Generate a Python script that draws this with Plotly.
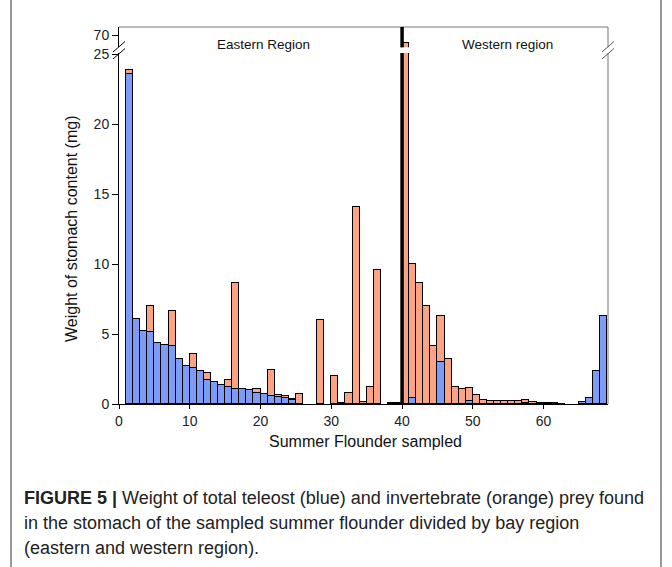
import plotly.graph_objects as go

# ---- data ----
samples = list(range(1, 69))
teleost = [23.57, 6.07, 5.19, 5.16, 4.36, 4.24, 4.14, 3.19, 2.69, 2.57,
           2.36, 1.74, 1.59, 1.38, 1.21, 1.07, 1.07, 1.00, 0.76, 0.69,
           0.59, 0.50, 0.40, 0.31, 0, 0, 0, 0, 0, 0,
           0, 0, 0, 0, 0, 0, 0, 0, 0, 0,
           0.43, 0, 0, 0, 3.00, 0, 0, 0, 0.21, 0,
           0, 0, 0, 0, 0, 0, 0.05, 0, 0, 0,
           0, 0, 0, 0, 0.16, 0.45, 2.36, 6.29]
invertebrate = [0.26, 0, 0, 1.85, 0, 0, 2.52, 0, 0, 1.02,
                0, 0.47, 0, 0, 0.53, 7.54, 0, 0, 0.28, 0,
                1.81, 0.14, 0.14, 0.05, 0.71, 0, 0, 6.00, 0, 2.00,
                0.10, 0.76, 14.09, 0.12, 1.21, 9.55, 0, 0.04, 0.04, 69.44,
                9.59, 8.66, 7.00, 4.11, 3.28, 3.21, 1.24, 1.04, 0.90, 0.66,
                0.31, 0.24, 0.24, 0.24, 0.19, 0.19, 0.24, 0.17, 0.05, 0.04,
                0.04, 0.02, 0, 0, 0, 0, 0, 0]
region_split = 40
region_labels = ["Eastern Region", "Western region"]
lower_ticks = [0, 5, 10, 15, 20, 25]
upper_ticks = [70]
x_ticks = [0, 10, 20, 30, 40, 50, 60]
caption_lines = [
    "<b>FIGURE 5 |</b> Weight of total teleost (blue) and invertebrate (orange) prey found",
    "in the stomach of the sampled summer flounder divided by bay region",
    "(eastern and western region).",
]

BLUE = "#7c9cf7"
ORANGE = "#fba383"
FONT = "Liberation Sans"

W, H = 672, 567
PL, PR, PT, PB = 119, 608, 27, 404  # plot box in pixels


def px(x):
    return x / W


def py(y):
    return 1 - y / H


def nz(v):
    return [a if a > 0 else None for a in v]


fig = go.Figure()
for yax in ["y", "y2"]:
    fig.add_trace(go.Bar(x=samples, y=nz(teleost), yaxis=yax, name="teleost",
                         marker=dict(color=BLUE, line=dict(color="black", width=1)),
                         width=1, offset=0, showlegend=False))
    fig.add_trace(go.Bar(x=samples, y=nz(invertebrate), yaxis=yax, name="invertebrate",
                         marker=dict(color=ORANGE, line=dict(color="black", width=1)),
                         width=1, offset=0, showlegend=False))

LOW_TOP = 53
UP_BOT = 47.3
scale = 14.0  # px per unit
lower_max = (PB - LOW_TOP) / scale
upper_top = 70 + (35.5 - PT) / scale
upper_min = upper_top - (UP_BOT - PT) / scale

axis_font = dict(family=FONT, size=14, color="#222")
fig.update_layout(
    width=W, height=H,
    margin=dict(l=0, r=0, t=0, b=0, pad=0),
    paper_bgcolor="white", plot_bgcolor="white",
    barmode="stack", bargap=0,
    font=dict(family=FONT),
    xaxis=dict(domain=[px(PL), px(PR)], range=[0, 69.1], tickvals=x_ticks,
               ticks="outside", ticklen=4, automargin=False,
               tickcolor="black", showline=True, linecolor="black", linewidth=1,
               showgrid=False, zeroline=False, tickfont=axis_font, anchor="y"),
    yaxis=dict(domain=[py(PB), py(LOW_TOP)], range=[0, lower_max], tickvals=lower_ticks,
               ticks="outside", ticklen=6, tickcolor="black", showline=True,
               automargin=False,
               linecolor="black", linewidth=1, showgrid=False, zeroline=False,
               tickfont=axis_font),
    yaxis2=dict(domain=[py(UP_BOT), py(PT)], range=[upper_min, upper_top],
                tickvals=upper_ticks, automargin=False,
                ticks="outside", ticklen=6, tickcolor="black", showline=True,
                linecolor="black", linewidth=1, showgrid=False, zeroline=False,
                tickfont=axis_font, anchor="x"),
)

shapes = []
# outer figure frame (journal page border)
shapes.append(dict(type="rect", xref="paper", yref="paper",
                   x0=px(11), x1=px(661), y0=py(580), y1=py(-13),
                   line=dict(color="#555", width=1.2), fillcolor="rgba(0,0,0,0)",
                   layer="below"))
# frame top and right (gray)
shapes.append(dict(type="line", xref="paper", yref="paper", x0=px(PL), x1=px(PR),
                   y0=py(PT), y1=py(PT), line=dict(color="#777", width=1)))
shapes.append(dict(type="line", xref="paper", yref="paper", x0=px(PR), x1=px(PR),
                   y0=py(PB), y1=py(LOW_TOP), line=dict(color="#777", width=1)))
shapes.append(dict(type="line", xref="paper", yref="paper", x0=px(PR), x1=px(PR),
                   y0=py(UP_BOT), y1=py(PT), line=dict(color="#777", width=1)))
# thick region divider
for ref in ["y domain", "y2 domain"]:
    shapes.append(dict(type="line", xref="x", yref=ref, x0=region_split, x1=region_split,
                       y0=0, y1=1, line=dict(color="black", width=3.5)))
# break marks
for cx, col in [(PL, "black"), (PR, "#555")]:
    for y1, y2 in [(52, 41.5), (59, 48.5)]:
        shapes.append(dict(type="line", xref="paper", yref="paper",
                           x0=px(cx - 6), x1=px(cx + 6), y0=py(y1), y1=py(y2),
                           line=dict(color=col, width=1)))
fig.update_layout(shapes=shapes)

ann = []
ann.append(dict(text=region_labels[0], x=px(263), y=py(45), xref="paper", yref="paper",
                showarrow=False, font=dict(family=FONT, size=13.5, color="#111"),
                xanchor="center", yanchor="middle"))
ann.append(dict(text=region_labels[1], x=px(507), y=py(45), xref="paper", yref="paper",
                showarrow=False, font=dict(family=FONT, size=13.5, color="#111"),
                xanchor="center", yanchor="middle"))
ann.append(dict(text="Summer Flounder sampled", x=px(366), y=py(441), xref="paper",
                yref="paper", showarrow=False, font=dict(family=FONT, size=16, color="#111"),
                xanchor="center", yanchor="middle"))
ann.append(dict(text="Weight of stomach content (mg)", x=px(72), y=py(229), xref="paper",
                yref="paper", showarrow=False, textangle=-90,
                font=dict(family=FONT, size=16, color="#111"),
                xanchor="center", yanchor="middle"))
for i, line in enumerate(caption_lines):
    ann.append(dict(text=line, x=px(22), y=py(498 + 25 * i), xref="paper", yref="paper",
                    showarrow=False, font=dict(family=FONT, size=18, color="#222"),
                    xanchor="left", yanchor="middle"))
fig.update_layout(annotations=ann)

fig.write_html("out.html")
